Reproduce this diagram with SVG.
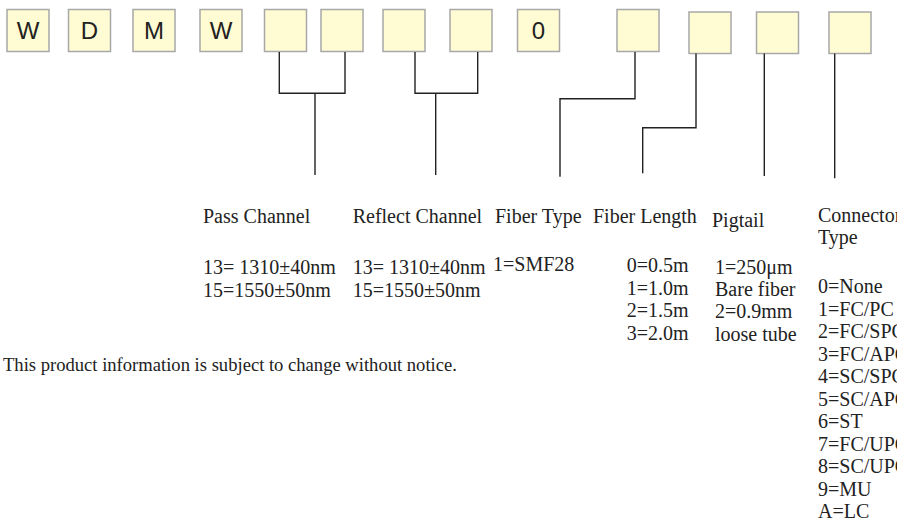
<svg xmlns="http://www.w3.org/2000/svg" width="897" height="529" viewBox="0 0 897 529">
<style>
.box{fill:#fffbd2;stroke:#a8a8a8;stroke-width:1.5}
.bl{font-family:"Liberation Sans",Arial,sans-serif;font-size:24px;fill:#222;text-anchor:middle}
.t{font-family:"Liberation Serif","Times New Roman",serif;font-size:20px;fill:#222}
.ln{fill:none;stroke:#222;stroke-width:1.4}
</style>
<rect width="897" height="529" fill="#fff"/>
<g id="b1"><rect class="box" x="7" y="9.5" width="42" height="42"/><text class="bl" x="28" y="39">W</text></g>
<g id="b2"><rect class="box" x="68.5" y="9.5" width="42" height="42"/><text class="bl" x="89.5" y="39">D</text></g>
<g id="b3"><rect class="box" x="133" y="9.5" width="42" height="42"/><text class="bl" x="154" y="39">M</text></g>
<g id="b4"><rect class="box" x="200" y="9.5" width="42" height="42"/><text class="bl" x="221" y="39">W</text></g>
<g id="b5"><rect class="box" x="264.5" y="9.5" width="42" height="42"/></g>
<g id="b6"><rect class="box" x="321" y="9.5" width="42" height="42"/></g>
<g id="b7"><rect class="box" x="383" y="9.5" width="42" height="42"/></g>
<g id="b8"><rect class="box" x="450" y="9.5" width="42" height="42"/></g>
<g id="b9"><rect class="box" x="517.5" y="9.5" width="42" height="42"/><text class="bl" x="538.5" y="39">0</text></g>
<g id="b10"><rect class="box" x="617" y="9.5" width="42" height="42"/></g>
<g id="b11"><rect class="box" x="689" y="12" width="42" height="41.5"/></g>
<g id="b12"><rect class="box" x="756.5" y="12" width="42" height="41.5"/></g>
<g id="b13"><rect class="box" x="829" y="12" width="42" height="41.5"/></g>
<g id="connectors">
<path class="ln" d="M279.3 52V93.3H345V52M315 93.3V175"/>
<path class="ln" d="M415 52V93.3H477.7V52M435.7 93.3V175"/>
<path class="ln" d="M635 52V98.7H560V176.7"/>
<path class="ln" d="M696 53.5V127.7H642.7V173.3"/>
<path class="ln" d="M764.3 53.5V176"/>
<path class="ln" d="M834.7 53.5V178.3"/>
</g>
<g id="pass">
<text class="t" x="203" y="223">Pass Channel</text>
<text class="t" x="203" y="274">13= 1310±40nm</text>
<text class="t" x="203" y="297">15=1550±50nm</text>
</g>
<g id="reflect">
<text class="t" x="352.7" y="223">Reflect Channel</text>
<text class="t" x="352.7" y="274">13= 1310±40nm</text>
<text class="t" x="352.7" y="297">15=1550±50nm</text>
</g>
<g id="fibertype">
<text class="t" x="495" y="223">Fiber Type</text>
<text class="t" x="493" y="271">1=SMF28</text>
</g>
<g id="fiberlength">
<text class="t" x="593" y="223">Fiber Length</text>
<text class="t" x="626.7" y="272">0=0.5m</text>
<text class="t" x="626.7" y="294.5">1=1.0m</text>
<text class="t" x="626.7" y="317">2=1.5m</text>
<text class="t" x="626.7" y="339.5">3=2.0m</text>
</g>
<g id="pigtail">
<text class="t" x="712" y="227">Pigtail</text>
<text class="t" x="715" y="274">1=250μm</text>
<text class="t" x="715" y="296">Bare fiber</text>
<text class="t" x="715" y="318">2=0.9mm</text>
<text class="t" x="715" y="340.5">loose tube</text>
</g>
<g id="connector">
<text class="t" x="818" y="222">Connector</text>
<text class="t" x="818" y="244">Type</text>
<text class="t" x="818" y="293">0=None</text>
<text class="t" x="818" y="315.5">1=FC/PC</text>
<text class="t" x="818" y="338">2=FC/SPC</text>
<text class="t" x="818" y="360.5">3=FC/APC</text>
<text class="t" x="818" y="383">4=SC/SPC</text>
<text class="t" x="818" y="405.5">5=SC/APC</text>
<text class="t" x="818" y="428">6=ST</text>
<text class="t" x="818" y="450.5">7=FC/UPC</text>
<text class="t" x="818" y="473">8=SC/UPC</text>
<text class="t" x="818" y="495.5">9=MU</text>
<text class="t" x="818" y="518">A=LC</text>
</g>
<text class="t" x="3" y="371" style="font-size:18.6px">This product information is subject to change without notice.</text>
</svg>
